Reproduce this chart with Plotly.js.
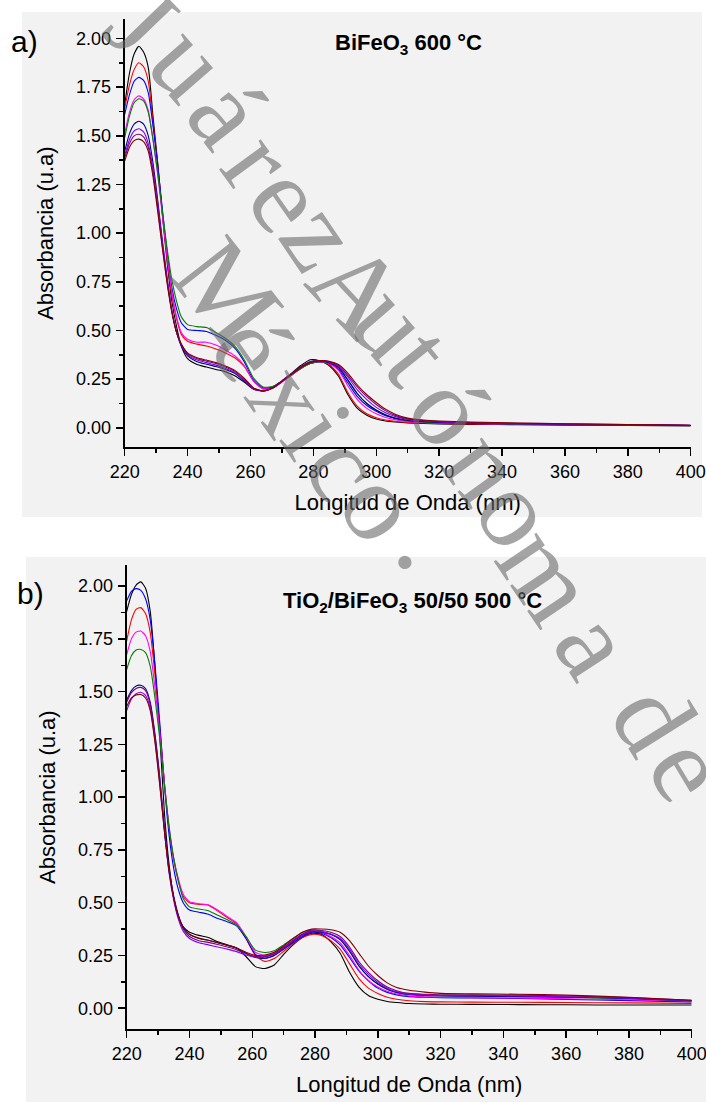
<!DOCTYPE html>
<html><head><meta charset="utf-8">
<script src="https://cdn.plot.ly/plotly-3.0.1.min.js"></script>
<style>html,body{margin:0;padding:0;background:#fff}</style>
</head><body><div id="chart" style="width:706px;height:1102px"></div>
<script>
// ---------- DATA ----------
const wavelength = [220,221.5,223,224.5,226,227.5,229,230.5,232,233.5,235,236.5,238,240,243,246,249,252,255,258,261,264,267,270,273,276,279,282,285,288,291,294,297,300,303,306,310,315,320,330,345,360,380,400];

// Panel a) BiFeO3 600 °C
const aBlack  = [1.66,1.82,1.92,1.96,1.93,1.85,1.60,1.36,1.09,0.85,0.65,0.52,0.42,0.355,0.325,0.312,0.30,0.288,0.268,0.235,0.198,0.19,0.205,0.24,0.28,0.32,0.35,0.345,0.32,0.265,0.17,0.10,0.065,0.045,0.035,0.03,0.025,0.022,0.02,0.018,0.016,0.014,0.012,0.01];
const aRed    = [1.64,1.76,1.84,1.875,1.855,1.78,1.57,1.35,1.10,0.87,0.68,0.56,0.48,0.445,0.43,0.42,0.405,0.385,0.36,0.315,0.24,0.2,0.205,0.235,0.27,0.305,0.33,0.34,0.325,0.275,0.18,0.11,0.072,0.052,0.04,0.034,0.028,0.025,0.023,0.02,0.018,0.016,0.014,0.012];
const aBlue   = [1.61,1.71,1.78,1.80,1.785,1.72,1.55,1.35,1.12,0.90,0.72,0.61,0.54,0.505,0.50,0.495,0.475,0.45,0.41,0.34,0.245,0.205,0.21,0.24,0.275,0.305,0.33,0.338,0.33,0.30,0.23,0.16,0.115,0.085,0.062,0.048,0.036,0.03,0.027,0.023,0.02,0.017,0.015,0.012];
const aMagenta= [1.51,1.62,1.685,1.705,1.69,1.63,1.48,1.30,1.09,0.88,0.70,0.57,0.49,0.455,0.44,0.44,0.425,0.40,0.37,0.32,0.24,0.2,0.205,0.235,0.27,0.305,0.33,0.34,0.33,0.295,0.215,0.145,0.10,0.072,0.053,0.042,0.032,0.028,0.025,0.022,0.019,0.017,0.015,0.012];
const aGreen  = [1.49,1.60,1.67,1.69,1.68,1.62,1.48,1.31,1.11,0.92,0.76,0.65,0.57,0.53,0.52,0.515,0.49,0.46,0.42,0.35,0.255,0.21,0.212,0.24,0.272,0.305,0.33,0.34,0.335,0.31,0.245,0.175,0.125,0.092,0.067,0.05,0.037,0.03,0.027,0.023,0.02,0.017,0.015,0.012];
const aNavy   = [1.42,1.51,1.56,1.575,1.56,1.50,1.36,1.17,0.96,0.77,0.60,0.49,0.42,0.37,0.34,0.327,0.315,0.30,0.28,0.24,0.2,0.19,0.205,0.24,0.277,0.313,0.34,0.345,0.335,0.31,0.245,0.175,0.125,0.09,0.066,0.05,0.038,0.032,0.028,0.024,0.021,0.018,0.015,0.012];
const aViolet = [1.40,1.48,1.525,1.536,1.52,1.46,1.33,1.15,0.95,0.76,0.60,0.49,0.425,0.375,0.348,0.335,0.322,0.305,0.285,0.245,0.2,0.19,0.205,0.24,0.277,0.313,0.338,0.345,0.338,0.315,0.26,0.195,0.145,0.105,0.077,0.058,0.043,0.035,0.03,0.026,0.022,0.019,0.016,0.013];
const aPurple = [1.385,1.46,1.50,1.508,1.495,1.44,1.31,1.13,0.93,0.75,0.60,0.49,0.43,0.38,0.355,0.342,0.33,0.312,0.29,0.25,0.203,0.19,0.205,0.24,0.277,0.313,0.338,0.345,0.34,0.32,0.27,0.21,0.16,0.12,0.087,0.064,0.046,0.037,0.032,0.027,0.023,0.02,0.017,0.013];
const aWine   = [1.37,1.44,1.475,1.483,1.47,1.42,1.29,1.11,0.92,0.74,0.59,0.49,0.43,0.385,0.36,0.348,0.335,0.318,0.295,0.255,0.205,0.19,0.203,0.238,0.275,0.31,0.335,0.345,0.342,0.325,0.28,0.22,0.17,0.13,0.095,0.07,0.05,0.04,0.035,0.03,0.025,0.021,0.017,0.013];

// Panel b) TiO2/BiFeO3 50/50 500 °C
const bBlack  = [1.88,1.96,2.005,2.02,1.99,1.88,1.62,1.30,0.93,0.68,0.52,0.43,0.385,0.36,0.345,0.335,0.315,0.30,0.285,0.245,0.197,0.188,0.205,0.255,0.30,0.335,0.355,0.35,0.315,0.26,0.17,0.10,0.06,0.042,0.032,0.027,0.022,0.02,0.019,0.018,0.017,0.016,0.015,0.015];
const bRed    = [1.74,1.84,1.89,1.898,1.87,1.78,1.58,1.34,1.07,0.85,0.70,0.60,0.53,0.5,0.492,0.488,0.46,0.43,0.40,0.33,0.25,0.222,0.235,0.27,0.305,0.335,0.35,0.345,0.32,0.28,0.21,0.14,0.095,0.07,0.052,0.042,0.035,0.031,0.03,0.029,0.028,0.027,0.025,0.023];
const bBlue   = [1.93,1.975,1.988,1.98,1.94,1.84,1.63,1.36,1.06,0.82,0.66,0.56,0.50,0.465,0.455,0.445,0.425,0.41,0.39,0.33,0.255,0.237,0.25,0.28,0.31,0.34,0.36,0.355,0.335,0.30,0.24,0.175,0.13,0.095,0.075,0.063,0.055,0.052,0.05,0.048,0.046,0.042,0.036,0.03];
const bMagenta= [1.675,1.75,1.782,1.787,1.765,1.69,1.52,1.31,1.07,0.86,0.71,0.61,0.54,0.505,0.495,0.49,0.465,0.435,0.405,0.34,0.265,0.25,0.262,0.29,0.32,0.35,0.365,0.36,0.34,0.31,0.25,0.18,0.13,0.10,0.08,0.067,0.058,0.054,0.052,0.05,0.048,0.045,0.04,0.033];
const bGreen  = [1.605,1.67,1.697,1.70,1.685,1.62,1.47,1.28,1.06,0.86,0.71,0.60,0.52,0.48,0.47,0.462,0.44,0.42,0.395,0.34,0.275,0.264,0.272,0.30,0.33,0.36,0.372,0.365,0.35,0.325,0.27,0.20,0.15,0.115,0.09,0.075,0.065,0.062,0.06,0.058,0.056,0.052,0.045,0.035];
const bNavy   = [1.46,1.505,1.527,1.53,1.515,1.45,1.30,1.10,0.86,0.66,0.53,0.44,0.385,0.35,0.33,0.322,0.31,0.298,0.285,0.26,0.24,0.237,0.25,0.28,0.315,0.345,0.362,0.36,0.35,0.325,0.27,0.20,0.15,0.115,0.09,0.075,0.065,0.06,0.058,0.057,0.055,0.052,0.046,0.035];
const bViolet = [1.41,1.465,1.49,1.497,1.482,1.42,1.27,1.07,0.84,0.64,0.51,0.42,0.365,0.33,0.31,0.30,0.29,0.28,0.268,0.252,0.242,0.243,0.256,0.285,0.318,0.348,0.365,0.362,0.352,0.33,0.28,0.21,0.16,0.122,0.095,0.078,0.066,0.062,0.06,0.059,0.058,0.054,0.047,0.035];
const bPurple = [1.45,1.495,1.515,1.52,1.505,1.44,1.29,1.09,0.85,0.65,0.52,0.43,0.375,0.34,0.32,0.312,0.302,0.29,0.277,0.258,0.245,0.245,0.258,0.288,0.322,0.352,0.37,0.368,0.36,0.34,0.29,0.22,0.17,0.13,0.10,0.083,0.07,0.066,0.064,0.063,0.062,0.058,0.05,0.037];
const bWine   = [1.43,1.47,1.484,1.486,1.47,1.41,1.26,1.06,0.84,0.65,0.52,0.435,0.38,0.35,0.332,0.322,0.31,0.298,0.285,0.265,0.25,0.252,0.265,0.295,0.33,0.36,0.375,0.375,0.372,0.36,0.32,0.26,0.20,0.155,0.12,0.098,0.085,0.076,0.07,0.068,0.066,0.062,0.052,0.038];

const xTickValues = [220,240,260,280,300,320,340,360,380,400];
const yTickValues = [0,0.25,0.5,0.75,1.0,1.25,1.5,1.75,2.0];
const panelLabels = ['a)','b)'];
const panelTitles = ['<b>BiFeO<sub>3</sub> 600 °C</b>','<b>TiO<sub>2</sub>/BiFeO<sub>3</sub> 50/50 500 °C</b>'];
const xTitle = 'Longitud de Onda (nm)';
const yTitle = 'Absorbancia (u.a)';

// ---------- STYLE ----------
const lineColors = ['#000000','#ff0000','#0000ff','#ff00ff','#008000','#000080','#8000ff','#800080','#800000'];
const seriesA = [aBlack,aRed,aBlue,aMagenta,aGreen,aNavy,aViolet,aPurple,aWine];
const seriesB = [bBlack,bRed,bBlue,bMagenta,bGreen,bNavy,bViolet,bPurple,bWine];

const W = 706, H = 1102;
const px = v => v / W, py = v => 1 - v / H;

const traces = [];
seriesA.forEach((s,i) => traces.push({x: wavelength, y: s, xaxis:'x', yaxis:'y', type:'scatter', mode:'lines',
  line:{color: lineColors[i], width:1.1, shape:'spline', smoothing:0.6}, hoverinfo:'skip', showlegend:false}));
seriesB.forEach((s,i) => traces.push({x: wavelength, y: s, xaxis:'x3', yaxis:'y3', type:'scatter', mode:'lines',
  line:{color: lineColors[i], width:1.1, shape:'spline', smoothing:0.6}, hoverinfo:'skip', showlegend:false}));

const tickFont = {family:'Liberation Sans, Arial, sans-serif', size:18, color:'#000'};
const titleFont = {family:'Liberation Sans, Arial, sans-serif', size:22, color:'#000'};

function xMain(domain, anchor){
  return {domain, anchor, range:[220,400], showline:true, linewidth:2, linecolor:'#000', mirror:false,
    ticks:'outside', ticklen:7, tickwidth:1.5, tickcolor:'#000', tickvals:xTickValues, ticktext:xTickValues.map(String),
    minor:{dtick:10, tick0:220, ticks:'outside', ticklen:4, tickwidth:1.5, tickcolor:'#000', showgrid:false},
    tickfont:tickFont, showgrid:false, zeroline:false, ticklabelstandoff:0, ticklabeloverflow:'allow',
    title:{text:xTitle, font:titleFont, standoff:14}};
}
function yMain(domain, anchor){
  return {domain, anchor, range:[-0.1,2.1], showline:true, linewidth:2, linecolor:'#000',
    ticks:'outside', ticklen:7, tickwidth:1.5, tickcolor:'#000', tickvals:yTickValues, ticktext:yTickValues.map(v=>v.toFixed(2)),
    minor:{dtick:0.125, tick0:0, ticks:'outside', ticklen:4, tickwidth:1.5, tickcolor:'#000', showgrid:false},
    tickfont:tickFont, showgrid:false, zeroline:false, ticklabelstandoff:1,
    title:{text:yTitle, font:titleFont, standoff:16}};
}
function xTop(over, anchor){
  return {overlaying:over, anchor, side:'top', range:[220,400], showline:true, linewidth:1.3, linecolor:'#000',
    ticks:'inside', ticklen:3.5, tickwidth:1, tickcolor:'#000', dtick:10, tick0:220, showticklabels:false,
    showgrid:false, zeroline:false};
}
function yRight(over, anchor){
  return {overlaying:over, anchor, side:'right', range:[-0.1,2.1], showline:true, linewidth:1.3, linecolor:'#000',
    ticks:'inside', ticklen:4, tickwidth:1, tickcolor:'#000', dtick:0.125, tick0:0, showticklabels:false,
    showgrid:false, zeroline:false};
}

// watermark characters (decoration): char, centre x, centre y (px), angle
const wm = [
  ['J',142,22,46],['u',190,62,49],['á',228,112,52],['r',259,160,54],['e',289,198,55],['z',322,236,56],
  ['A',358,288,47],['u',392,322,49],['t',420,356,51],['ó',450,410,53],['n',486,466,54],['o',518,512,55],
  ['m',548,574,56],['a',596,644,57],['d',654,718,58],['e',690,768,59],
  ['M',228,292,52],['é',252,347,55],['x',290,398,55],['i',318,430,56],['c',346,466,57],['o',382,506,57],['.',433,545,58]
];

const annotations = [
  {text:panelLabels[0], xref:'paper', yref:'paper', x:px(24), y:py(42), xanchor:'center', yanchor:'middle', showarrow:false,
   font:{family:'Liberation Sans, Arial, sans-serif', size:30, color:'#000'}},
  {text:panelLabels[1], xref:'paper', yref:'paper', x:px(30), y:py(593), xanchor:'center', yanchor:'middle', showarrow:false,
   font:{family:'Liberation Sans, Arial, sans-serif', size:30, color:'#000'}},
  {text:panelTitles[0], xref:'paper', yref:'paper', x:px(408), y:py(44), xanchor:'center', yanchor:'middle', showarrow:false,
   font:{family:'Liberation Sans, Arial, sans-serif', size:22, color:'#000'}},
  {text:panelTitles[1], xref:'paper', yref:'paper', x:px(413), y:py(602), xanchor:'center', yanchor:'middle', showarrow:false,
   font:{family:'Liberation Sans, Arial, sans-serif', size:22, color:'#000'}}
];
wm.forEach(([c,x,y,a]) => annotations.push({text:c, xref:'paper', yref:'paper', x:px(x), y:py(y), xanchor:'center', yanchor:'middle',
  showarrow:false, textangle:a, font:{family:'Liberation Serif, Times New Roman, serif', size:112, color:'rgba(105,105,105,0.6)'}}));

const layout = {
  width:W, height:H, autosize:false, margin:{l:0,r:0,t:0,b:0},
  paper_bgcolor:'#ffffff', plot_bgcolor:'#f2f2f2', showlegend:false,
  xaxis: xMain([px(124.7), px(690.7)], 'y'),
  yaxis: yMain([py(447.3), py(19)], 'x'),
  xaxis2: xTop('x','y'),
  yaxis2: yRight('y','x'),
  xaxis3: xMain([px(126.7), px(691.7)], 'y3'),
  yaxis3: yMain([py(1029.3), py(565)], 'x3'),
  xaxis4: xTop('x3','y3'),
  yaxis4: yRight('y3','x3'),
  shapes:[
    {type:'rect', xref:'paper', yref:'paper', x0:px(22), x1:px(702), y0:py(517), y1:py(12), fillcolor:'#f2f2f2', line:{width:0}, layer:'below'},
    {type:'rect', xref:'paper', yref:'paper', x0:px(26), x1:1, y0:0, y1:py(557), fillcolor:'#f2f2f2', line:{width:0}, layer:'below'}
  ],
  annotations
};

Plotly.newPlot('chart', traces, layout, {staticPlot:true, displayModeBar:false});
</script></body></html>
